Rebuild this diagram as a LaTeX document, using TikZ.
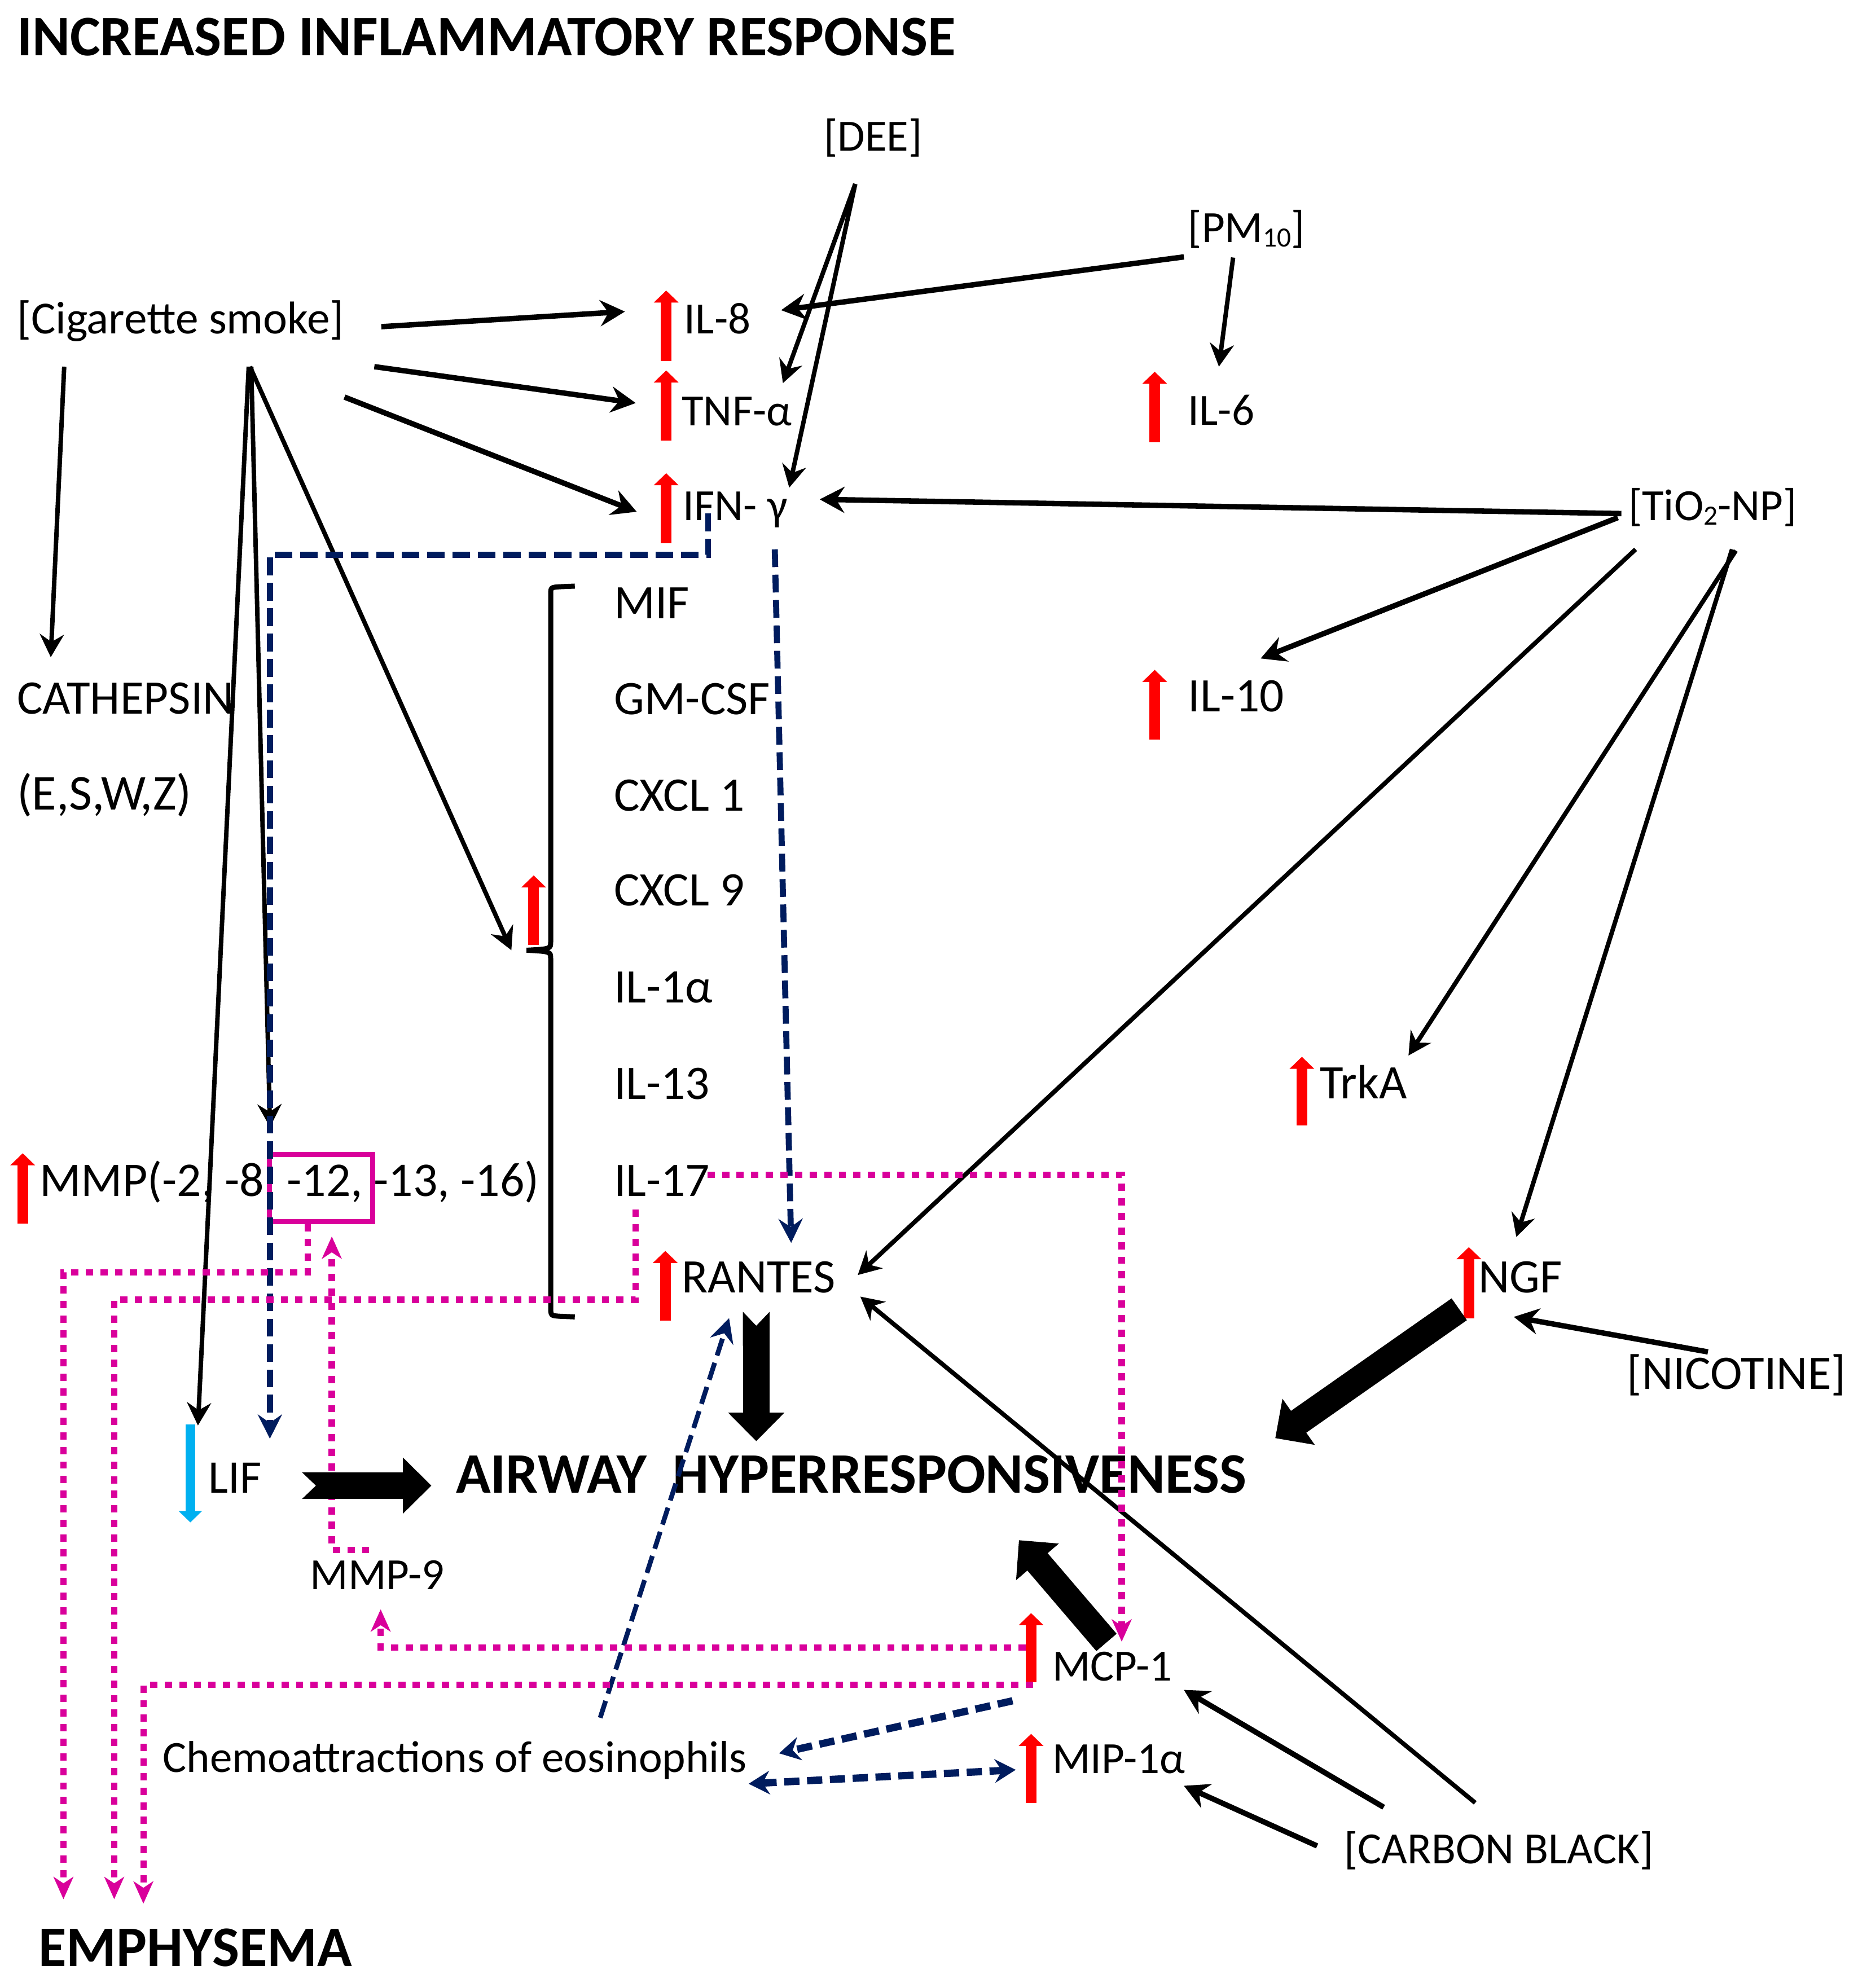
\documentclass[tikz,border=0pt]{standalone}
\usepackage{fontspec}
\setmainfont{Carlito}
\usepackage{xcolor}
\usetikzlibrary{arrows.meta, positioning}
\definecolor{navyblue}{RGB}{0,28,94}
\definecolor{pinkline}{RGB}{217,0,155}
\definecolor{lifblue}{RGB}{0,176,240}
\newcommand{\lowsub}[1]{\raisebox{-0.75mm}{\fontsize{12.5}{12.5}\selectfont #1}}

\begin{document}
\begin{tikzpicture}[x=0.2mm, y=-0.2mm,
    txt/.style={inner sep=0pt, anchor=base west, font=\fontsize{20}{24}\selectfont},
    midtxt/.style={inner sep=0pt, anchor=base west, font=\fontsize{21.6}{26}\selectfont},
    bigtxt/.style={inner sep=0pt, anchor=base west, font=\fontsize{25.7}{30}\selectfont\bfseries},
    blk/.style={line width=0.85mm, -{Stealth[length=3.9mm, width=4.1mm, inset=1.3mm]}},
    blkthin/.style={line width=0.7mm, -{Stealth[length=3.6mm, width=3.8mm, inset=1.2mm]}},
    navydash/.style={navyblue, line width=0.95mm, dash pattern=on 2.8mm off 1.2mm, -{Stealth[length=3.8mm, width=3.8mm, inset=1.3mm]}},
    navythick/.style={navyblue, line width=1.15mm, dash pattern=on 2.4mm off 1.2mm, -{Stealth[length=3.3mm, width=3.7mm, inset=1.1mm]}},
    pinkdot/.style={pinkline, line width=1mm, dash pattern=on 1.15mm off 1.15mm, -{Stealth[length=3.5mm, width=3.1mm, inset=1mm]}},
    upmark/.style={red, line width=1.7mm, -{Triangle[width=3.8mm, length=1.9mm]}},
    downmark/.style={lifblue, line width=1.5mm, -{Triangle[width=3.6mm, length=1.8mm]}},
    block/.style={line width=4.2mm, -{Triangle[width=8.6mm, length=4.5mm]}},
    notched/.style={line width=4.2mm, {Triangle Cap[reversed, length=2.2mm]}-{Triangle[width=8.6mm, length=4.5mm]}},
  ]
  \useasboundingbox (0,0) rectangle (1464,1567);

  \node[bigtxt] (Title) at (13,44) {INCREASED INFLAMMATORY RESPONSE};
  \node[txt] (DEE) at (649,119) {[DEE]};
  \node[txt] (PM10) at (936,191) {[PM\lowsub{10}]};
  \node[txt, font=\fontsize{20.6}{24}\selectfont] (Cigarette) at (13,263) {[Cigarette smoke]};
  \node[txt] (IL8) at (539,263) {IL-8};
  \node[txt] (TNF) at (537,335.5) {TNF-α};
  \node[txt] (IL6) at (936,335) {IL-6};
  \node[txt] (IFN) at (538,410) {IFN- γ};
  \node[txt] (TiO2) at (1283,410) {[TiO\lowsub{2}-NP]};

  \node[midtxt] (MIF) at (483.5,487.5) {MIF};
  \node[midtxt] (GMCSF) at (483.5,563) {GM-CSF};
  \node[midtxt] (CXCL1) at (483.5,639) {CXCL 1};
  \node[midtxt] (CXCL9) at (483.5,714) {CXCL 9};
  \node[midtxt] (IL1a) at (483.5,790.5) {IL-1α};
  \node[midtxt] (IL13) at (483.5,866.6) {IL-13};
  \node[midtxt] (IL17) at (483.5,943) {IL-17};

  \node[midtxt] (Cathepsin) at (13,562.6) {CATHEPSIN};
  \node[midtxt, font=\fontsize{22.5}{26}\selectfont] (Types) at (13,638.2) {(E,S,W,Z)};
  \node[midtxt] (IL10) at (936,561) {IL-10};
  \node[midtxt] (TrkA) at (1040,866) {TrkA};
  \node[midtxt, font=\fontsize{21.7}{26}\selectfont] (MMP) at (31,943) {MMP(-2, -8, -12, -13, -16)};
  \node[draw=pinkline, line width=0.8mm, minimum width=16.2mm, minimum height=10.6mm] (Box12) at (253,936.5) {};
  \node[midtxt] (RANTES) at (537,1019) {RANTES};
  \node[midtxt] (NGF) at (1165,1019) {NGF};
  \node[midtxt] (Nicotine) at (1282,1095) {[NICOTINE]};
  \node[midtxt, font=\fontsize{21}{26}\selectfont] (LIF) at (164,1177) {LIF};
  \node[bigtxt] (AHR) at (359,1177) {AIRWAY\ \ HYPERRESPONSIVENESS};
  \node[txt] (MMP9) at (244,1253) {MMP-9};
  \node[txt] (MCP1) at (829,1325) {MCP-1};
  \node[txt] (Chemo) at (128,1397) {Chemoattractions of eosinophils};
  \node[txt] (MIP) at (829,1398) {MIP-1α};
  \node[txt] (Carbon) at (1059,1469) {[CARBON BLACK]};
  \node[bigtxt] (Emphysema) at (30,1550) {EMPHYSEMA};
  \coordinate (Brace) at (415,749);

  \draw[line width=0.8mm] (453,462) -- (441,462.5) .. controls (434,463) .. (434,469) -- (434,742)
    .. controls (434,748) .. (Brace) .. controls (434,750) .. (434,756) -- (434,1030)
    .. controls (434,1037) .. (441,1037.5) -- (453,1038);

  \draw[upmark] (525,284.6) -- (525,229);
  \draw[upmark] (525,347.5) -- (525,292);
  \draw[upmark] (525,428) -- (525,373);
  \draw[upmark] (910,348.4) -- (910,293);
  \draw[upmark] (910,583) -- (910,528);
  \draw[upmark] (420.6,745) -- (420.6,690);
  \draw[upmark] (1026,887) -- (1026,833);
  \draw[upmark] (17.9,964.5) -- (17.9,909);
  \draw[upmark] (524.3,1041) -- (524.3,986);
  \draw[upmark] (1157.6,1039) -- (1157.6,983);
  \draw[upmark] (812.6,1326) -- (812.6,1271.5);
  \draw[upmark] (812.6,1421) -- (812.6,1366.7);
  \draw[downmark] (150,1122.6) -- (150,1200);

  \draw[blk] ([shift={(287.5,-5.5)}]Cigarette.base west) -- ([shift={(-46.5,-17.4)}]IL8.base west);
  \draw[blk] ([shift={(282,26)}]Cigarette.base west) -- ([shift={(-36,-17.8)}]TNF.base west);
  \draw[blk] ([shift={(258.5,50)}]Cigarette.base west) -- ([shift={(-36.2,-6.6)}]IFN.base west);
  \draw[blkthin] ([shift={(37.6,26)}]Cigarette.base west) -- ([shift={(27,-44.6)}]Cathepsin.base west);
  \draw[blkthin] ([shift={(184,26)}]Cigarette.base west) -- ([shift={(-12,0)}]Brace);
  \draw[blkthin] ([shift={(183,26)}]Cigarette.base west) -- ([shift={(-8,-53.4)}]LIF.base west);
  \draw[blkthin] ([shift={(185,26)}]Cigarette.base west) -- ([shift={(181.8,-54.6)}]MMP.base west);

  \draw[blkthin] ([shift={(25,26)}]DEE.base west) -- ([shift={(80,-33.5)}]TNF.base west);
  \draw[blkthin] ([shift={(25,26)}]DEE.base west) -- ([shift={(84,-25.6)}]IFN.base west);
  \draw[blk] ([shift={(-3,11.5)}]PM10.base west) -- ([shift={(76.6,-18.5)}]IL8.base west);
  \draw[blkthin] ([shift={(35.8,12)}]PM10.base west) -- ([shift={(24.6,-46)}]IL6.base west);

  \draw[blk] ([shift={(-5.2,-5.2)}]TiO2.base west) -- ([shift={(108,-16.4)}]IFN.base west);
  \draw[blk] ([shift={(-8,-2)}]TiO2.base west) -- ([shift={(57.5,-42)}]IL10.base west);
  \draw[blkthin] ([shift={(6,23)}]TiO2.base west) -- ([shift={(139,-14)}]RANTES.base west);
  \draw[blkthin] ([shift={(85,24)}]TiO2.base west) -- ([shift={(70,-34)}]TrkA.base west);
  \draw[blkthin] ([shift={(82,23)}]TiO2.base west) -- ([shift={(30,-44)}]NGF.base west);
  \draw[blk] ([shift={(64,-29.4)}]Nicotine.base west) -- ([shift={(28,19)}]NGF.base west);

  \draw[blkthin] ([shift={(103.6,-48)}]Carbon.base west) -- ([shift={(141,3)}]RANTES.base west);
  \draw[blk] ([shift={(31.5,-44.5)}]Carbon.base west) -- ([shift={(104,7)}]MCP1.base west);
  \draw[blk] ([shift={(-21,-14)}]Carbon.base west) -- ([shift={(104,9.6)}]MIP.base west);

  \draw[navydash] ([shift={(20,-5.3)}]IFN.base west) -- ++(0,32.5) -| ([shift={(48.7,-43)}]LIF.base west);
  \draw[navydash] ([shift={(72.6,23)}]IFN.base west) -- ([shift={(86.5,-39.3)}]RANTES.base west);
  \draw[navydash, line width=0.75mm] ([shift={(345,-43)}]Chemo.base west) -- ([shift={(37.6,20)}]RANTES.base west);
  \draw[navythick] ([shift={(-31,15.6)}]MCP1.base west) -- ([shift={(486,-15)}]Chemo.base west);
  \draw[navythick, {Stealth[length=3.3mm, width=3.7mm, inset=1.1mm]}-{Stealth[length=3.3mm, width=3.7mm, inset=1.1mm]}] ([shift={(462,9)}]Chemo.base west) -- ([shift={(-28.5,-3)}]MIP.base west);

  \draw[pinkdot] ([shift={(-10.4,0)}]Box12.south) -- ++(0,37.8) -| ([shift={(20,-53)}]Emphysema.base west);
  \draw[pinkdot] ([shift={(17.5,10.5)}]IL17.base west) -- ++(0,71) -| ([shift={(60,-53)}]Emphysema.base west);
  \draw[pinkdot] ([shift={(-15,3)}]MCP1.base west) -| ([shift={(83,-49.5)}]Emphysema.base west);
  \draw[pinkdot] ([shift={(-20.5,-26.4)}]MCP1.base west) -| ([shift={(56,15.5)}]MMP9.base west);
  \draw[pinkdot] ([shift={(47,-31.3)}]MMP9.base west) -| ([shift={(8.5,9.6)}]Box12.south);
  \draw[pinkdot] ([shift={(74,-17)}]IL17.base west) -| ([shift={(55,-31)}]MCP1.base west);

  \draw[notched] ([shift={(59,15)}]RANTES.base west) -- ([shift={(237,-41)}]AHR.base west);
  \draw[notched] ([shift={(74,-6)}]LIF.base west) -- ([shift={(-19,-6)}]AHR.base west);
  \draw[block] ([shift={(-15,13)}]NGF.base west) -- ([shift={(646,-43.4)}]AHR.base west);
  \draw[block] ([shift={(43,-30.4)}]MCP1.base west) -- ([shift={(444,37)}]AHR.base west);
\end{tikzpicture}
\end{document}
